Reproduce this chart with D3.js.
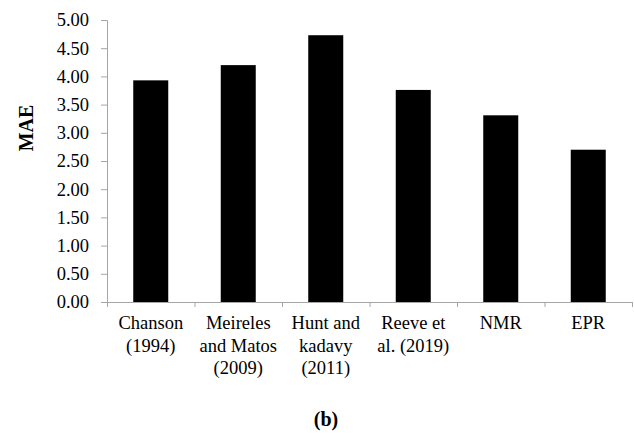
<!DOCTYPE html>
<html>
<head>
<meta charset="utf-8">
<script src="https://cdn.jsdelivr.net/npm/d3@7"></script>
<style>
  body { margin: 0; background: #fff; }
</style>
</head>
<body>
<script>
// categories (line breaks as in the original axis labels)
let categories = ["Chanson\n(1994)", "Meireles\nand Matos\n(2009)", "Hunt and\nkadavy\n(2011)",
                  "Reeve et\nal. (2019)", "NMR", "EPR"];
let maeValues = [3.93, 4.20, 4.73, 3.76, 3.31, 2.70];
let yTicks = [0, 0.5, 1, 1.5, 2, 2.5, 3, 3.5, 4, 4.5, 5];

const serif = "'Liberation Serif', 'Times New Roman', serif";

let margin = {top: 20, right: 2, bottom: 134, left: 107},
    width = 634 - margin.left - margin.right,
    height = 436 - margin.top - margin.bottom;

let svg = d3.select("body")
            .append("svg")
            .attr("width", 634)
            .attr("height", 436)
            .style("font-family", serif);

let g = svg.append("g")
           .attr("transform", `translate(${margin.left}, ${margin.top})`);

let xScale = d3.scaleBand()
    .domain(categories)
    .range([0, width])
    .paddingInner(0.6)
    .paddingOuter(0.3);

// boundaries between categories, for the tick marks
let edgeScale = d3.scaleLinear()
    .domain([0, categories.length])
    .range([0, width]);

let yScale = d3.scaleLinear()
    .domain([0, 5])
    .range([height, 0]);

const axisColor = "#a6a6a6";

// y axis
let yAxisG = g.append("g")
    .call(d3.axisLeft(yScale).tickValues(yTicks).tickFormat(d3.format(".2f")).tickSize(6).tickPadding(12));
yAxisG.attr("font-family", serif).attr("font-size", 18.5);
yAxisG.select(".domain").attr("stroke", axisColor);
yAxisG.selectAll(".tick line").attr("stroke", axisColor);
yAxisG.selectAll(".tick text").style("font-family", serif).style("font-size", "18.5px").attr("fill", "#000");

// bars
g.selectAll("rect.bar")
    .data(maeValues)
    .enter()
    .append("rect")
        .attr("class", "bar")
        .attr("fill", "#000")
        .attr("x", (d, i) => xScale(categories[i]))
        .attr("width", xScale.bandwidth())
        .attr("y", d => yScale(d))
        .attr("height", d => height - yScale(d));

// x axis: line + boundary ticks
let xEdgeG = g.append("g")
    .attr("transform", `translate(0, ${height})`)
    .call(d3.axisBottom(edgeScale).tickValues(d3.range(categories.length + 1)).tickFormat("").tickSizeOuter(0).tickSize(5));
xEdgeG.select(".domain").attr("stroke", axisColor);
xEdgeG.selectAll(".tick line").attr("stroke", axisColor);

// x labels
let xLabelG = g.append("g")
    .attr("transform", `translate(0, ${height})`)
    .call(d3.axisBottom(xScale).tickSize(0).tickFormat(""));
xLabelG.attr("font-family", serif);
xLabelG.select(".domain").remove();

xLabelG.selectAll(".tick").each(function(d) {
    let t = d3.select(this).append("text")
        .attr("text-anchor", "middle")
        .attr("fill", "#000")
        .style("font-family", serif)
        .style("font-size", "18.5px");
    d.split("\n").forEach((line, i) => {
        t.append("tspan").attr("x", 0).attr("y", 27 + i * 22.5).text(line);
    });
});

// y title
svg.append("text")
    .attr("transform", "translate(33, 128) rotate(-90)")
    .attr("text-anchor", "middle")
    .style("font-family", serif)
    .style("font-size", "20px")
    .style("font-weight", "bold")
    .text("MAE");

// panel label
svg.append("text")
    .attr("x", 326)
    .attr("y", 426)
    .attr("text-anchor", "middle")
    .style("font-family", serif)
    .style("font-size", "20px")
    .style("font-weight", "bold")
    .text("(b)");
</script>
</body>
</html>
